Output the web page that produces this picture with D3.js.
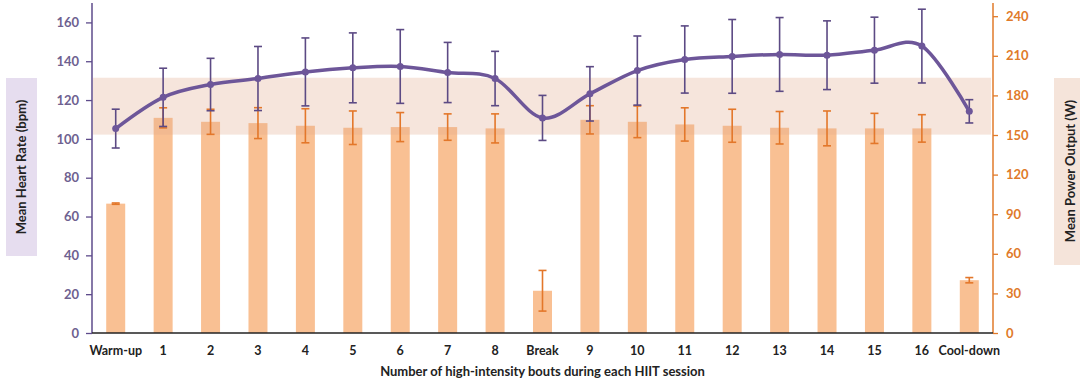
<!DOCTYPE html>
<html>
<head>
  <meta charset="utf-8">
  <title>Heart rate and power output across HIIT bouts</title>
  <script src="https://cdn.jsdelivr.net/npm/d3@7"></script>
  <style>
    body { margin: 0; background: #fff; }
    text { font-family: Lato, "Open Sans", sans-serif; font-weight: bold; }
  </style>
</head>
<body>
  <div id="chart"></div>
  <script>
    // categories along the x axis
    var stages = ["Warm-up", "1", "2", "3", "4", "5", "6", "7", "8", "Break",
                  "9", "10", "11", "12", "13", "14", "15", "16", "Cool-down"];

    // mean heart rate (bpm) and its SD
    var hrMean = [105.3, 121.4, 128, 131.1, 134.5, 136.6, 137.3, 134.2, 131.1, 110.8,
                  123.2, 135.2, 140.9, 142.5, 143.5, 143.1, 145.7, 147.8, 114.2];
    var hrSd   = [10, 15, 13.5, 16.5, 17.5, 18, 19, 15.5, 14, 11.6,
                  14, 17.8, 17.3, 19, 19, 17.7, 17, 19, 6];

    // mean power output (W) and its SD
    var powMean = [98, 163, 160, 159, 157, 155.5, 156, 156, 155, 32,
                   161.5, 160, 158, 157, 155.5, 155, 155, 155, 40];
    var powSd   = [0.5, 7.6, 9.5, 11.7, 12.9, 12.7, 11, 10, 11, 15.4,
                   10.7, 12, 12.6, 12.5, 12.3, 13.2, 11.4, 10.4, 2];

    // shaded target heart-rate zone
    var hrZone = [102.2, 131.5];

    var hrTicks = [0, 20, 40, 60, 80, 100, 120, 140, 160];
    var powTicks = [0, 30, 60, 90, 120, 150, 180, 210, 240];

    var W = 1080, H = 385;
    var pLeft = 92, pRight = 993, pTop = 3, pBottom = 333;

    var svg = d3.select("#chart").append("svg")
      .attr("width", W).attr("height", H);

    var x = d3.scaleBand().domain(stages).range([pLeft, pRight]);
    var yHr = d3.scaleLinear().domain([0, 170]).range([pBottom, pTop]);
    var yPow = d3.scaleLinear().domain([0, 250]).range([pBottom, pTop]);

    var cx = function (i) { return x(stages[i]) + x.bandwidth() / 2; };
    var barW = 19;

    // power bars
    svg.append("g").selectAll("rect")
      .data(powMean)
      .enter().append("rect")
        .attr("x", function (d, i) { return cx(i) - barW / 2; })
        .attr("y", function (d) { return yPow(d); })
        .attr("width", barW)
        .attr("height", function (d) { return pBottom - yPow(d); })
        .attr("fill", "#f9c093");

    // heart-rate zone band
    svg.append("rect")
      .attr("x", pLeft + 1)
      .attr("y", yHr(hrZone[1]))
      .attr("width", pRight - pLeft - 3)
      .attr("height", yHr(hrZone[0]) - yHr(hrZone[1]))
      .attr("fill", "rgb(225,170,140)")
      .attr("opacity", 0.3);

    function errorBars(g, means, sds, scale, colour, cap) {
      var eb = g.selectAll("g").data(means).enter().append("g")
        .attr("stroke", colour).attr("stroke-width", 1.6);
      eb.append("line")
        .attr("x1", function (d, i) { return cx(i); })
        .attr("x2", function (d, i) { return cx(i); })
        .attr("y1", function (d, i) { return scale(d + sds[i]); })
        .attr("y2", function (d, i) { return scale(d - sds[i]); });
      [1, -1].forEach(function (s) {
        eb.append("line")
          .attr("x1", function (d, i) { return cx(i) - cap; })
          .attr("x2", function (d, i) { return cx(i) + cap; })
          .attr("y1", function (d, i) { return scale(d + s * sds[i]); })
          .attr("y2", function (d, i) { return scale(d + s * sds[i]); });
      });
    }

    errorBars(svg.append("g"), powMean, powSd, yPow, "#e3772a", 4);
    errorBars(svg.append("g"), hrMean, hrSd, yHr, "#5c4a84", 4);

    // heart-rate line (smoothed like the spreadsheet original)
    var line = d3.line()
      .x(function (d, i) { return cx(i); })
      .y(function (d) { return yHr(d); })
      .curve(d3.curveCardinal.tension(0));

    svg.append("path")
      .datum(hrMean)
      .attr("d", line)
      .attr("fill", "none")
      .attr("stroke", "#6d5699")
      .attr("stroke-width", 3.5);

    svg.append("g").selectAll("circle")
      .data(hrMean)
      .enter().append("circle")
        .attr("cx", function (d, i) { return cx(i); })
        .attr("cy", function (d) { return yHr(d); })
        .attr("r", 3.5)
        .attr("fill", "#6d5699");

    // left axis
    var axL = svg.append("g")
      .attr("transform", "translate(" + pLeft + ",0)")
      .call(d3.axisLeft(yHr).tickValues(hrTicks).tickSize(6).tickPadding(7));
    axL.select(".domain").attr("stroke", "#5e4b8b").attr("stroke-width", 1.5)
      .attr("d", "M0," + pTop + "V" + pBottom);
    axL.selectAll(".tick line").attr("stroke", "#5e4b8b").attr("stroke-width", 1.3);
    axL.selectAll(".tick text").attr("fill", "#6e6190").style("font-size", "13px");

    // right axis
    var axR = svg.append("g")
      .attr("transform", "translate(" + pRight + ",0)")
      .call(d3.axisRight(yPow).tickValues(powTicks).tickSize(5).tickPadding(8));
    axR.select(".domain").attr("stroke", "#e07a2a").attr("stroke-width", 1.5)
      .attr("d", "M0," + pTop + "V" + pBottom);
    axR.selectAll(".tick line").attr("stroke", "#e07a2a").attr("stroke-width", 1.3);
    axR.selectAll(".tick text").attr("fill", "#e07a2a").style("font-size", "13px");

    // x axis
    svg.append("line")
      .attr("x1", pLeft).attr("x2", pRight)
      .attr("y1", pBottom).attr("y2", pBottom)
      .attr("stroke", "#222").attr("stroke-width", 1.5);

    svg.append("g").selectAll("text")
      .data(stages)
      .enter().append("text")
        .attr("x", function (d, i) { return cx(i); })
        .attr("y", 355)
        .attr("text-anchor", "middle")
        .attr("fill", "#222")
        .style("font-size", "12.5px")
        .text(function (d) { return d; });

    svg.append("text")
      .attr("x", (pLeft + pRight) / 2)
      .attr("y", 376)
      .attr("text-anchor", "middle")
      .attr("fill", "#222")
      .style("font-size", "13px")
      .text("Number of high-intensity bouts during each HIIT session");

    // y titles in shaded boxes
    svg.append("rect").attr("x", 6).attr("y", 78).attr("width", 31).attr("height", 178)
      .attr("fill", "#e6ddef");
    svg.append("text")
      .attr("transform", "translate(26,167) rotate(-90)")
      .attr("text-anchor", "middle")
      .attr("fill", "#222")
      .style("font-size", "13px")
      .text("Mean Heart Rate (bpm)");

    svg.append("rect").attr("x", 1054).attr("y", 78).attr("width", 26).attr("height", 187)
      .attr("fill", "#f5e4da");
    svg.append("text")
      .attr("transform", "translate(1075,171) rotate(-90)")
      .attr("text-anchor", "middle")
      .attr("fill", "#222")
      .style("font-size", "13px")
      .text("Mean Power Output (W)");
  </script>
</body>
</html>
